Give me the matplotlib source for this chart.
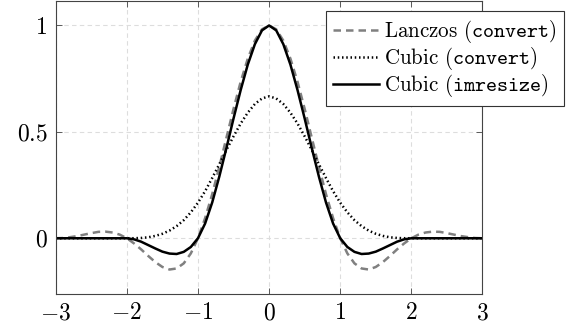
import matplotlib
matplotlib.use('Agg')
import matplotlib.pyplot as plt

plt.rcParams['font.family'] = ['cmr10', 'DejaVu Serif']
plt.rcParams['mathtext.fontset'] = 'cm'
plt.rcParams['axes.unicode_minus'] = False

# sample positions -3 .. 3, step 0.1
x = [-3.0, -2.9, -2.8, -2.7, -2.6, -2.5, -2.4, -2.3, -2.2, -2.1,
     -2.0, -1.9, -1.8, -1.7, -1.6, -1.5, -1.4, -1.3, -1.2, -1.1,
     -1.0, -0.9, -0.8, -0.7, -0.6, -0.5, -0.4, -0.3, -0.2, -0.1,
     0.0, 0.1, 0.2, 0.3, 0.4, 0.5, 0.6, 0.7, 0.8, 0.9,
     1.0, 1.1, 1.2, 1.3, 1.4, 1.5, 1.6, 1.7, 1.8, 1.9,
     2.0, 2.1, 2.2, 2.3, 2.4, 2.5, 2.6, 2.7, 2.8, 2.9, 3.0]

lanczos_convert = [0.0, 0.001, 0.005, 0.010, 0.017, 0.024, 0.030, 0.031, 0.027, 0.017,
                   0.0, -0.024, -0.052, -0.083, -0.112, -0.135, -0.147, -0.142, -0.118, -0.071,
                   0.0, 0.094, 0.207, 0.336, 0.472, 0.608, 0.735, 0.844, 0.929, 0.982,
                   1.0, 0.982, 0.929, 0.844, 0.735, 0.608, 0.472, 0.336, 0.207, 0.094,
                   0.0, -0.071, -0.118, -0.142, -0.147, -0.135, -0.112, -0.083, -0.052, -0.024,
                   0.0, 0.017, 0.027, 0.031, 0.030, 0.024, 0.017, 0.010, 0.005, 0.001, 0.0]

cubic_convert = [0.0, 0.0, 0.0, 0.0, 0.0, 0.0, 0.0, 0.0, 0.0, 0.0,
                 0.0, 0.0002, 0.0013, 0.0045, 0.011, 0.021, 0.036, 0.057, 0.085, 0.122,
                 0.167, 0.221, 0.283, 0.348, 0.415, 0.479, 0.539, 0.590, 0.631, 0.657,
                 0.667, 0.657, 0.631, 0.590, 0.539, 0.479, 0.415, 0.348, 0.283, 0.221,
                 0.167, 0.122, 0.085, 0.057, 0.036, 0.021, 0.011, 0.0045, 0.0013, 0.0002,
                 0.0, 0.0, 0.0, 0.0, 0.0, 0.0, 0.0, 0.0, 0.0, 0.0, 0.0]

cubic_imresize = [0.0, 0.0, 0.0, 0.0, 0.0, 0.0, 0.0, 0.0, 0.0, 0.0,
                  0.0, -0.005, -0.016, -0.032, -0.048, -0.063, -0.072, -0.074, -0.064, -0.041,
                  0.0, 0.069, 0.168, 0.290, 0.424, 0.563, 0.696, 0.816, 0.912, 0.977,
                  1.0, 0.977, 0.912, 0.816, 0.696, 0.563, 0.424, 0.290, 0.168, 0.069,
                  0.0, -0.041, -0.064, -0.074, -0.072, -0.063, -0.048, -0.032, -0.016, -0.005,
                  0.0, 0.0, 0.0, 0.0, 0.0, 0.0, 0.0, 0.0, 0.0, 0.0, 0.0]

xticks = [-3, -2, -1, 0, 1, 2, 3]
yticks = [0, 0.5, 1]

fig = plt.figure(figsize=(5.72, 3.25), dpi=100)
ax = fig.add_axes([0.0974, 0.0954, 0.7461, 0.9015])

ax.plot(x, lanczos_convert, color='#808080', lw=1.8, ls=(0, (3.0, 2.0)),
        label=r'Lanczos ($\mathtt{convert}$)')
ax.plot(x, cubic_convert, color='black', lw=1.8, ls=(0, (0.6, 1.1)),
        label=r'Cubic ($\mathtt{convert}$)')
ax.plot(x, cubic_imresize, color='black', lw=1.8,
        label=r'Cubic ($\mathtt{imresize}$)')

ax.set_xlim(-3, 3)
ax.set_ylim(-0.262, 1.115)
ax.set_xticks(xticks, labels=['$%g$' % v for v in xticks])
ax.set_yticks(yticks, labels=['$%g$' % v for v in yticks])
ax.tick_params(direction='in', length=4, width=0.6, labelsize=17, pad=6,
               top=True, right=True, color='#444444')
ax.grid(True, color='#dddddd', ls=(0, (4, 3)), lw=0.8)
ax.set_axisbelow(True)
for sp in ax.spines.values():
    sp.set_linewidth(0.8)
    sp.set_color('#444444')

leg = ax.legend(loc='upper left', bbox_to_anchor=(0.633, 0.966), fontsize=15.1,
                frameon=True, fancybox=False, edgecolor='#333333', framealpha=1,
                handlelength=2.2, handletextpad=0.25, borderpad=0.33,
                labelspacing=0.0, borderaxespad=0)
leg.get_frame().set_linewidth(0.8)
leg.set_clip_on(False)

fig.savefig('out.png', dpi=100)
